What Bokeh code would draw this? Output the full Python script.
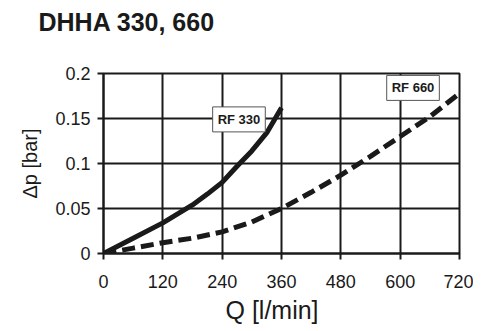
from bokeh.plotting import figure
from bokeh.models import FixedTicker, Label, CustomJSTickFormatter, Range1d, Title
from bokeh.embed import file_html
from bokeh.resources import INLINE

# Data
q_330 = [0, 60, 120, 180, 210, 240, 270, 300, 330, 360]
dp_330 = [0, 0.017, 0.034, 0.054, 0.066, 0.079, 0.097, 0.114, 0.134, 0.162]

q_660 = [0, 60, 120, 180, 240, 300, 360, 420, 480, 540, 600, 660, 720]
dp_660 = [0, 0.006, 0.012, 0.017, 0.024, 0.035, 0.05, 0.068, 0.087, 0.108, 0.13, 0.152, 0.178]

x_ticks = [0, 120, 240, 360, 480, 600, 720]
y_ticks = [0, 0.05, 0.1, 0.15, 0.2]

label_330 = ("RF 330", 274, 0.149)
label_660 = ("RF 660", 626, 0.184)

title_text = "DHHA 330, 660"
x_title = "Q [l/min]"
y_title = "Δp [bar]"

FONT = "Liberation Sans"
INK = "#1a1a1a"

p = figure(width=473, height=331, output_backend="svg", toolbar_location=None,
           x_range=Range1d(0, 720), y_range=Range1d(0, 0.2),
           min_border_left=103, min_border_right=14, min_border_top=73, min_border_bottom=78)

# white (invisible) spacer next to the frame, real title outside it
p.add_layout(Title(text="x", text_font=FONT, text_font_size="10px",
                   text_color="white", standoff=25), "above")
p.title = Title(text=title_text, text_font=FONT, text_font_size="25px",
                text_font_style="bold", text_color=INK, align="left",
                offset=-65, standoff=0)

p.outline_line_color = INK
p.outline_line_width = 2
p.background_fill_color = "white"
p.border_fill_color = "white"

for ax in (p.xaxis[0], p.yaxis[0]):
    ax.axis_line_color = INK
    ax.axis_line_width = 2
    ax.major_tick_line_color = INK
    ax.major_tick_line_width = 2
    ax.major_tick_out = 6
    ax.major_tick_in = 0
    ax.minor_tick_line_color = None
    ax.major_label_text_font = FONT
    ax.major_label_text_font_size = "18px"
    ax.major_label_text_color = INK

p.xaxis.ticker = FixedTicker(ticks=x_ticks)
p.yaxis.ticker = FixedTicker(ticks=y_ticks)
p.yaxis.formatter = CustomJSTickFormatter(code="return String(tick)")
p.xaxis.major_label_standoff = 15
p.yaxis.major_label_standoff = 7

# axis titles as side-panel titles
p.add_layout(Title(text=x_title, text_font=FONT, text_font_size="25px",
                   text_font_style="normal", text_color=INK, align="left",
                   offset=122, standoff=7, vertical_align="bottom"), "below")
p.add_layout(Title(text=y_title, text_font=FONT, text_font_size="20px",
                   text_font_style="normal", text_color=INK, align="center",
                   standoff=23, vertical_align="bottom"), "left")

p.xgrid.ticker = FixedTicker(ticks=x_ticks)
p.ygrid.ticker = FixedTicker(ticks=y_ticks)
for g in (p.xgrid[0], p.ygrid[0]):
    g.grid_line_color = INK
    g.grid_line_width = 2
    g.grid_line_alpha = 1

p.line(q_330, dp_330, line_color=INK, line_width=5)
p.line(q_660, dp_660, line_color=INK, line_width=5, line_dash="13 6")

for txt, lx, ly in (label_330, label_660):
    p.add_layout(Label(x=lx, y=ly, text=txt, text_font=FONT, text_font_size="13px",
                       text_font_style="bold", text_color=INK, text_align="center",
                       text_baseline="middle", background_fill_color="white",
                       border_line_color="#555555", border_line_width=1, padding=5))

open("out.html", "w").write(file_html(p, INLINE))
